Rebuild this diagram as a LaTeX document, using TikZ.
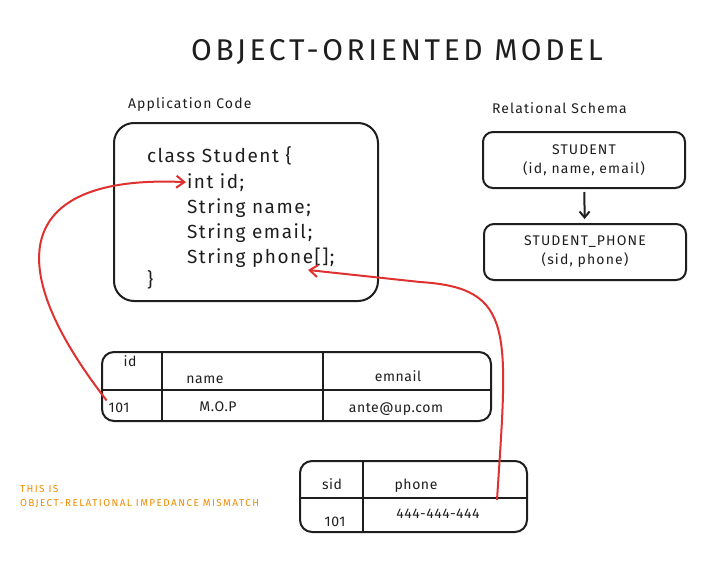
\documentclass[tikz,border=0pt]{standalone}
\usepackage{fontspec}
\setmainfont{Fira Sans}
\usetikzlibrary{arrows.meta}
\definecolor{ink}{HTML}{1E1E1E}
\definecolor{linkred}{HTML}{E03131}
\definecolor{noteorange}{HTML}{F08C00}
\newcommand{\sketchfont}[2]{\fontsize{#1}{#1}\selectfont\addfontfeatures{LetterSpace=#2}}
\tikzset{
  codeline/.style={anchor=base west,inner sep=0pt,font=\sketchfont{19}{8}},
  cell/.style={anchor=base,inner sep=1pt,font=\sketchfont{14}{4}},
  relbox/.style={draw,rounded corners=10pt,minimum width=202pt,minimum height=56pt,
    align=center,font=\sketchfont{14}{8}},
  caption/.style={anchor=base west,inner sep=0pt,font=\sketchfont{14}{8}},
  maplink/.style={draw=linkred,line width=2pt,-{Straight Barb[length=8pt,width=12pt]}}
}
\begin{document}
\begin{tikzpicture}[x=1pt,y=-1pt,line width=2pt,draw=ink,text=ink]
\useasboundingbox (0,0) rectangle (707,562);
\node[font=\sketchfont{30}{12}] (title) at (397,52) {OBJECT-ORIENTED MODEL};
% application code
\node[caption] (appcap) at (127,108) {Application Code};
\draw[rounded corners=20pt] (114,123) rectangle (378,301);
\node[codeline] (lclass) at (146,162) {class Student \{};
\node[codeline] (lid) at (186,188) {int id;};
\node[codeline] (lname) at (186,213) {String name;};
\node[codeline] (lemail) at (186,238) {String email;};
\node[codeline] (lphone) at (186,263) {String phone[];};
\node[codeline] (lclose) at (146,286) {\}};
% relational schema
\node[caption] (relcap) at (491,113) {Relational Schema};
\node[relbox] (student) at (584,160) {STUDENT\\[5pt](id, name, email)};
\node[relbox] (studphone) at (585,252) {STUDENT\_PHONE\\[5pt](sid, phone)};
\draw[-{Straight Barb[length=6pt,width=10pt]},shorten <=3pt,shorten >=4pt] (student) -- (studphone);
% student table
\draw[rounded corners=12pt] (102,352) rectangle (491,421);
\draw (102,390) -- (491,390);
\draw (162,352) -- (162,421);
\draw (323,352) -- (323,421);
\node[cell] (hid) at (130,366) {id};
\node[cell] (hname) at (205,383) {name};
\node[cell] (hemail) at (398,381) {emnail};
\node[cell] (r101) at (119,412) {101};
\node[cell] (rname) at (218,411) {M.O.P};
\node[cell] (remail) at (396,412) {ante@up.com};
% phone table
\draw[rounded corners=12pt] (300,461) rectangle (527,532);
\draw (300,498) -- (527,498);
\draw (363,461) -- (363,532);
\node[cell] (hsid) at (332,489) {sid};
\node[cell] (hphone) at (416,489) {phone};
\node[cell] (psid) at (335,526) {101};
\node[cell] (pnum) at (438,518) {444-444-444};
% note
\node[anchor=north west,inner sep=0pt,align=left,text=noteorange,
  font=\sketchfont{10}{14}] (note) at (19,484)
  {THIS IS\\[4pt]OBJECT-RELATIONAL IMPEDANCE MISMATCH};
% mapping arrows
\coordinate (phonestart) at (497,500);
\coordinate (phonetip) at (308,270);
\draw[maplink] (r101.north west) .. controls (-10,250) and (30,175) .. (lid.west);
\draw[maplink] (phonestart) .. controls (508,330) and (515,288) .. (420,282) -- (phonetip);
\end{tikzpicture}
\end{document}
